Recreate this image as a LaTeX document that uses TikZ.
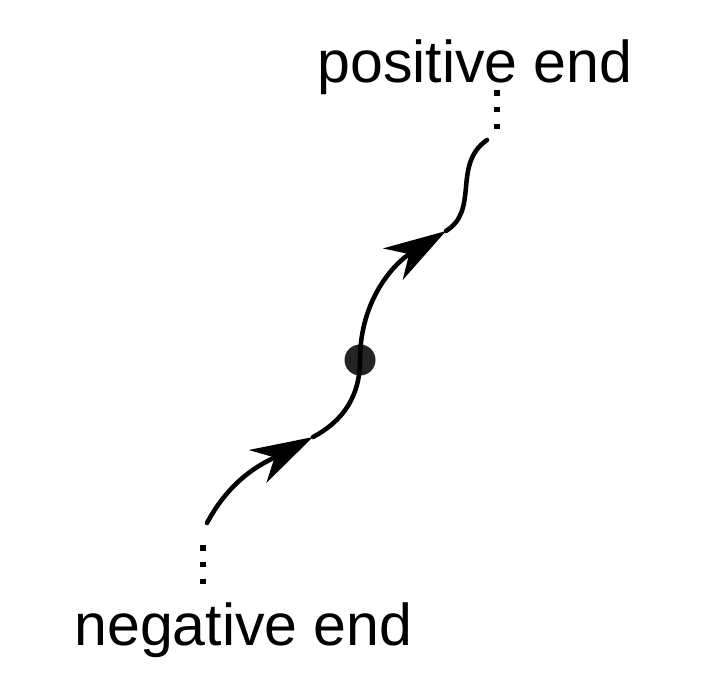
\documentclass[tikz,border=0pt]{standalone}
\usepackage{fontspec}
\setmainfont{Liberation Sans}
\usetikzlibrary{arrows.meta}

\begin{document}
\begin{tikzpicture}[x=0.02cm,y=0.02cm,line cap=round,
  strand/.style={line width=2.6pt},
  headed/.style={strand,-{Stealth[length=1.25cm,width=0.74cm,inset=0.38cm]}},
  dotcol/.style={line width=3.2pt,line cap=butt,dash pattern=on 3.2pt off 6.4pt},
  endlabel/.style={anchor=base,inner sep=0pt,font=\fontsize{33.6pt}{40pt}\selectfont}]
\useasboundingbox (0,0) rectangle (703,687);
% points on the strand
\coordinate (neg) at (207,164);
\coordinate (a1) at (313,250);
\coordinate (pt) at (360,327);
\coordinate (a2) at (446,456);
\coordinate (bend) at (466,500);
\coordinate (pos) at (487,547);
% dotted continuations
\coordinate (negtop) at (203,142);
\coordinate (negbot) at (203,100);
\coordinate (posbot) at (497,556);
\coordinate (postop) at (497,597);
\node[endlabel] (neglabel) at (243.5,42) {negative end};
\node[endlabel] (poslabel) at (475,604) {positive end};
\fill[black!86] (pt) circle (0.31cm);
\draw[headed] (neg) to[out=62,in=208] (a1);
\draw[strand] (a1) to[out=28,in=270] (pt);
\draw[headed] (pt) to[out=90,in=212] (a2);
\draw[strand] (a2) to[out=32,in=265] (bend) to[out=85,in=215] (pos);
\draw[dotcol] (negtop) -- (negbot);
\draw[dotcol] (postop) -- (posbot);
\end{tikzpicture}
\end{document}
